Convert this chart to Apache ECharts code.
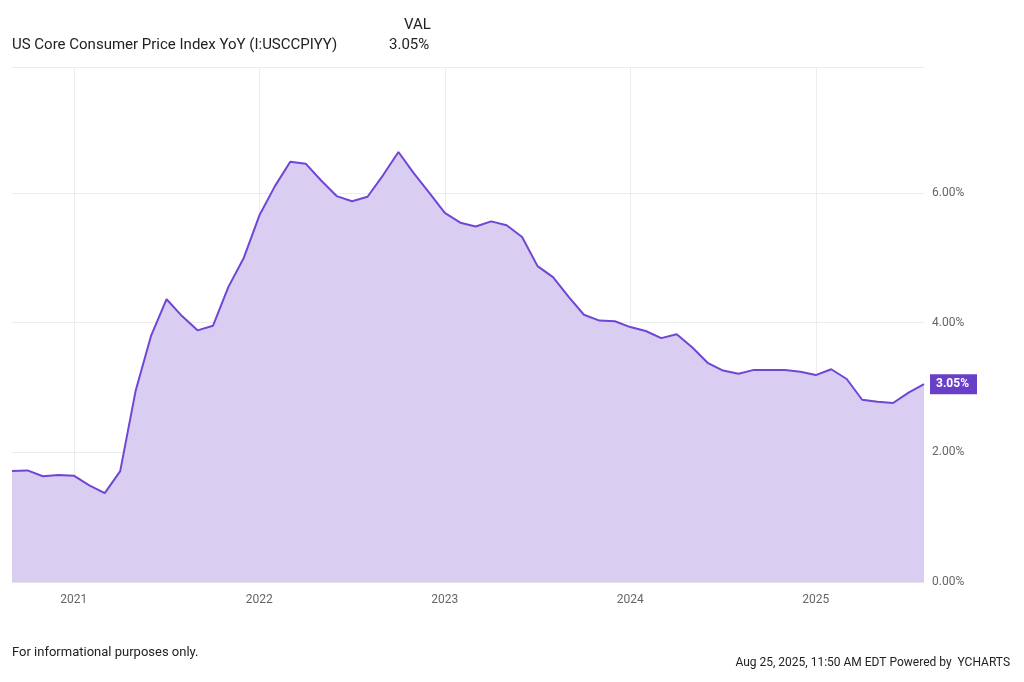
<!DOCTYPE html>
<html><head><meta charset="utf-8">
<script src="https://cdn.jsdelivr.net/npm/echarts@6/dist/echarts.min.js"></script>
<style>html,body{margin:0;padding:0;background:#fff}#c{width:1024px;height:682px}</style>
</head><body><div id="c"></div>
<script>
// x values: months since Jan 2020 (Sep 2020 = 8)
const startMonth = 8;
const yearTicks = [12, 24, 36, 48, 60];
const yearLabels = ['2021','2022','2023','2024','2025'];
const values = [1.71,1.72,1.63,1.65,1.64,1.49,1.37,1.71,2.95,3.8,
4.36,4.1,3.88,3.95,4.55,5.0,5.65,6.1,6.48,6.45,
6.19,5.95,5.87,5.94,6.27,6.63,6.3,6.0,5.69,5.54,
5.48,5.56,5.5,5.32,4.87,4.7,4.4,4.12,4.03,4.02,
3.93,3.87,3.76,3.82,3.62,3.38,3.26,3.21,3.27,3.27,
3.27,3.24,3.19,3.28,3.13,2.81,2.78,2.76,2.92,3.05];
const seriesName = 'US Core Consumer Price Index YoY (I:USCCPIYY)';
const lastLabel = '3.05%';
const data = values.map((v,i)=>[startMonth+i, v]);
const chart = echarts.init(document.getElementById('c'));
chart.setOption({
  animation:false,
  textStyle:{fontFamily:'Roboto'},
  grid:{left:12,right:100,top:67,bottom:100},
  graphic:[
    {type:'text',left:404,top:18,style:{text:'VAL',font:'15px Roboto',fill:'#222'}},
    {type:'text',left:12,top:38,style:{text:seriesName,font:'15px Roboto',fill:'#222'}},
    {type:'text',left:389,top:38,style:{text:lastLabel,font:'15px Roboto',fill:'#222'}},
    {type:'text',left:12,top:646,style:{text:'For informational purposes only.',font:'13px Roboto',fill:'#222'}},
    {type:'text',right:14,top:657,style:{text:'Aug 25, 2025, 11:50 AM EDT Powered by  YCHARTS',font:'12px Roboto',fill:'#222'}}
  ],
  xAxis:{type:'value',min:startMonth,max:startMonth+values.length-1,
    axisLine:{show:true,lineStyle:{color:'#e6e6e6'}},
    axisTick:{show:false,customValues:yearTicks},
    splitLine:{show:true,lineStyle:{color:'#ececec'}},
    axisLabel:{color:'#666',fontSize:12,margin:12,customValues:yearTicks,
      formatter:v=>yearLabels[yearTicks.indexOf(v)] || ''}},
  yAxis:{type:'value',position:'right',min:0,max:7.94,interval:2,
    axisLine:{show:false},axisTick:{show:false},
    splitLine:{lineStyle:{color:'#ececec'}},
    axisLabel:{color:'#666',fontSize:12,margin:8,showMaxLabel:false,formatter:v=>v.toFixed(2)+'%'}},
  series:[{type:'line',name:seriesName,data:data,symbol:'none',
    lineStyle:{color:'#7046d4',width:2},
    areaStyle:{color:'#dacdf2',opacity:1},
    endLabel:{show:true,formatter:()=>lastLabel,backgroundColor:'#6a3fc8',color:'#fff',fontWeight:'bold',fontSize:12,padding:[4,8,4,6],distance:6}
  }]
});
</script></body></html>
